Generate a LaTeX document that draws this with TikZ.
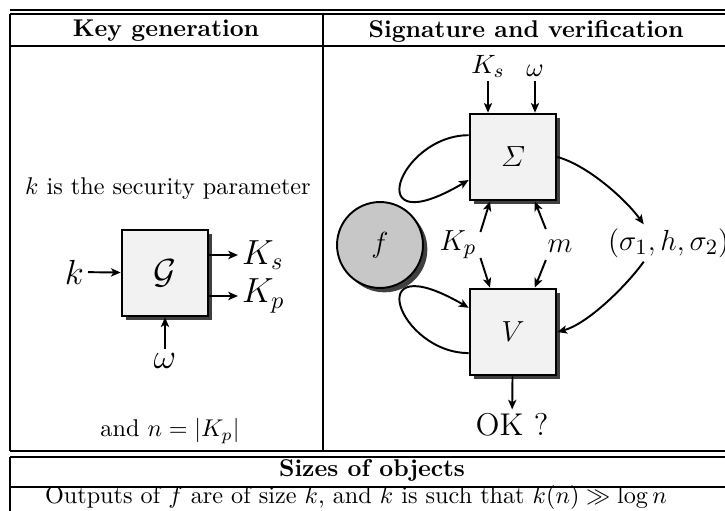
\documentclass[tikz,border=0pt]{standalone}
\usepackage{amsmath}
\usetikzlibrary{arrows.meta,shadows}
\begin{document}
\begin{tikzpicture}[x=0.413pt,y=-0.413pt]
	% size of each box
	\def\sz{35.5pt}
	\def\rw{1.1pt}
	\def\lblsize{\fontsize{13}{15}\selectfont}
	% node style definition
	\tikzstyle{block} = [draw, line width=\rw, fill=black!5, rectangle, minimum size=\sz, inner sep=0pt, drop shadow={shadow xshift=1.8pt, shadow yshift=-1.8pt, fill=black!75, opacity=1}];
	\tikzstyle{roundblock} = [draw, line width=0.8pt, fill=black!22, circle, minimum size=\sz, inner sep=0pt, drop shadow={shadow xshift=1.8pt, shadow yshift=-1.8pt, fill=black!75, opacity=1}];
	\tikzstyle{biglbl} = [font=\Large, inner sep=1.5pt];
	\tikzstyle{lbl} = [font=\lblsize, inner sep=1.5pt];
	\tikzstyle{smlbl} = [font=\fontsize{11}{13}\selectfont, inner sep=1.5pt];
	\tikzstyle{plain} = [draw=none, fill=none];
	\tikzstyle{conn} = [line width=0.8pt, -{Stealth[length=4pt,width=3.4pt,inset=1pt]}];
	\tikzstyle{rule} = [line width=1pt];
	\useasboundingbox (0,0) rectangle (725,510);
	% table rules
	\draw[rule] (10,10) -- (740,10);
	\draw[rule] (10,14) -- (740,14);
	\draw[rule] (10,14) -- (10,451);
	\draw[rule] (323,14) -- (323,451);
	\draw[rule] (10,46) -- (740,46);
	\draw[rule] (10,451) -- (740,451);
	\draw[rule] (10,457) -- (740,457);
	\draw[rule] (10,457) -- (10,520);
	\draw[rule] (10,487) -- (740,487);
	% headers and texts
	\node[plain, font=\bfseries] (hkey) at (166,31) {Key generation};
	\node[plain, font=\bfseries] (hsig) at (526,31) {Signature and verification};
	\node[plain] (secpar) at (168,189) {$k$ is the security parameter};
	\node[plain] (nsize) at (170,431) {and $n=|K_p|$};
	\node[plain, font=\bfseries] (hsize) at (372,470) {Sizes of objects};
	\node[plain] (outsize) at (356,497) {Outputs of $f$ are of size $k$, and $k$ is such that $k(n)\gg\log n$};
	% key generation
	\node[block] (G) at (165,273) {\Large$\mathcal{G}$};
	\node[biglbl, anchor=east] (k) at (88,272) {$k$};
	\node[biglbl, anchor=west] (Ks) at (238,255) {$K_s$};
	\node[biglbl, anchor=west] (Kp) at (238,296) {$K_p$};
	\node[biglbl] (wG) at (165,361) {$\omega$};
	\draw[conn] (k) -- (G);
	\draw[conn] (G.east |- Ks.west) -- (Ks.west);
	\draw[conn] (G.east |- Kp.west) -- (Kp.west);
	\draw[conn] (wG) -- (G);
	% signature and verification
	\node[block] (S) at (513,157) {\lblsize$\varSigma$};
	\node[block] (V) at (513,332) {\lblsize$V$};
	\node[roundblock] (f) at (380,245) {\lblsize$f$};
	\node[smlbl] (Ks2) at (488,66) {$K_s$};
	\node[smlbl] (w2) at (535,71) {$\omega$};
	\node[lbl] (Kp2) at (458,245) {$K_p$};
	\node[lbl] (m) at (560,246) {$m$};
	\node[lbl, anchor=west] (sig) at (604,243) {$(\sigma_1,h,\sigma_2)$};
	\node[lbl] (ok) at (512,425) {OK ?};
	\draw[conn] (Ks2) -- (Ks2 |- S.north);
	\draw[conn] (w2) -- (w2 |- S.north);
	\draw[conn] (Kp2.30) -- ([xshift=-9.5pt]S.south);
	\draw[conn] (Kp2.-30) -- ([xshift=-9.5pt]V.north);
	\draw[conn] ([xshift=1pt,yshift=2.7pt]m.north west) -- ([xshift=9pt]S.south);
	\draw[conn] ([xshift=1pt,yshift=-1.5pt]m.south west) -- ([xshift=9pt]V.north);
	% calls to f
	\draw[conn] ([yshift=9pt]S.west) .. controls +(-70,0) and +(-110,65) .. ([yshift=-9.5pt]S.west);
	\draw[conn] ([yshift=-8.7pt]V.west) .. controls +(-70,0) and +(-110,-64) .. ([yshift=10pt]V.west);
	% signature to verifier
	\draw[conn] (S.east) .. controls +(30,8) and +(-18,-25) .. ([xshift=-10.3pt]sig.north);
	\draw[conn] ([xshift=-10.3pt]sig.south) .. controls +(-18,25) and +(30,-8) .. (V.east);
	\draw[conn] (V) -- (ok);
\end{tikzpicture}
\end{document}
